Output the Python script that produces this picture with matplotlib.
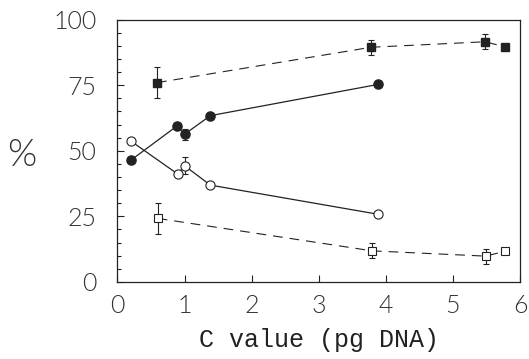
import matplotlib
matplotlib.use("Agg")
import matplotlib.pyplot as plt
from matplotlib.ticker import MultipleLocator

plt.rcParams["lines.scale_dashes"] = False

# filled squares (dashed)
fsq_x = [0.59, 3.78, 5.48, 5.77]
fsq_y = [76.0, 89.5, 91.6, 89.7]
fsq_err = [6.0, 2.9, 2.9, 0.0]

# filled circles (solid)
fci_x = [0.20, 0.89, 1.00, 1.385, 3.88]
fci_y = [46.4, 59.5, 56.3, 63.4, 75.3]
fci_err = [0.0, 0.0, 2.0, 0.0, 0.0]

# open circles (solid)
oci_x = [0.20, 0.90, 1.00, 1.385, 3.88]
oci_y = [53.7, 41.1, 44.3, 36.9, 25.8]
oci_err = [0.0, 0.0, 3.2, 0.0, 0.0]

# open squares (dashed)
osq_x = [0.60, 3.80, 5.49, 5.78]
osq_y = [24.2, 11.8, 9.8, 11.7]
osq_err = [6.0, 2.9, 2.9, 0.0]

ink = "#222222"
dash = (0, (7, 5))

fig = plt.figure(figsize=(5.29, 3.59), dpi=100)
ax = fig.add_axes([0.222, 0.215, 0.761, 0.730])

ax.plot(fsq_x, fsq_y, color=ink, lw=0.8, ls=dash, zorder=2)
ax.plot(osq_x, osq_y, color=ink, lw=0.8, ls=dash, zorder=2)
ax.plot(fci_x, fci_y, color=ink, lw=0.9, zorder=2)
ax.plot(oci_x, oci_y, color=ink, lw=0.9, zorder=2)

ax.errorbar(fsq_x, fsq_y, yerr=fsq_err, fmt="s", ms=5.5, color=ink,
            mfc=ink, mec=ink, elinewidth=0.8, capsize=2.5, capthick=0.8, zorder=3)
ax.errorbar(osq_x, osq_y, yerr=osq_err, fmt="s", ms=5.5, color=ink,
            mfc="white", mec=ink, mew=0.8, elinewidth=0.8, capsize=2.5,
            capthick=0.8, zorder=3)
ax.errorbar(fci_x, fci_y, yerr=fci_err, fmt="o", ms=6.6, color=ink,
            mfc=ink, mec=ink, elinewidth=0.8, capsize=2.5, capthick=0.8, zorder=3)
ax.errorbar(oci_x, oci_y, yerr=oci_err, fmt="o", ms=6.6, color=ink,
            mfc="white", mec=ink, mew=0.8, elinewidth=0.8, capsize=2.5,
            capthick=0.8, zorder=3)

ax.set_xlim(0, 6)
ax.set_ylim(0, 100)
ax.xaxis.set_major_locator(MultipleLocator(1))
ax.yaxis.set_major_locator(MultipleLocator(25))
ax.yaxis.set_minor_locator(MultipleLocator(5))
ax.tick_params(which="both", direction="in", color=ink, width=0.8,
               top=False, right=False)
ax.tick_params(which="major", length=5, labelsize=18, labelcolor="#333333")
ax.tick_params(which="minor", length=3)
ax.tick_params(axis="x", pad=9)
ax.tick_params(axis="y", pad=15)
for lab in ax.get_xticklabels() + ax.get_yticklabels():
    lab.set_fontweight(300)
    lab.set_family(["Lato", "DejaVu Sans"])
for s in ax.spines.values():
    s.set_color(ink)
    s.set_linewidth(0.9)

ax.set_xlabel("C value (pg DNA)", fontsize=18, family="Liberation Mono",
              color=ink, labelpad=7)
fig.text(0.042, 0.565, "%", fontsize=27, color="#333333", ha="center",
         va="center", family=["Lato", "DejaVu Sans"], fontweight=300)

fig.savefig("out.png", dpi=100)
